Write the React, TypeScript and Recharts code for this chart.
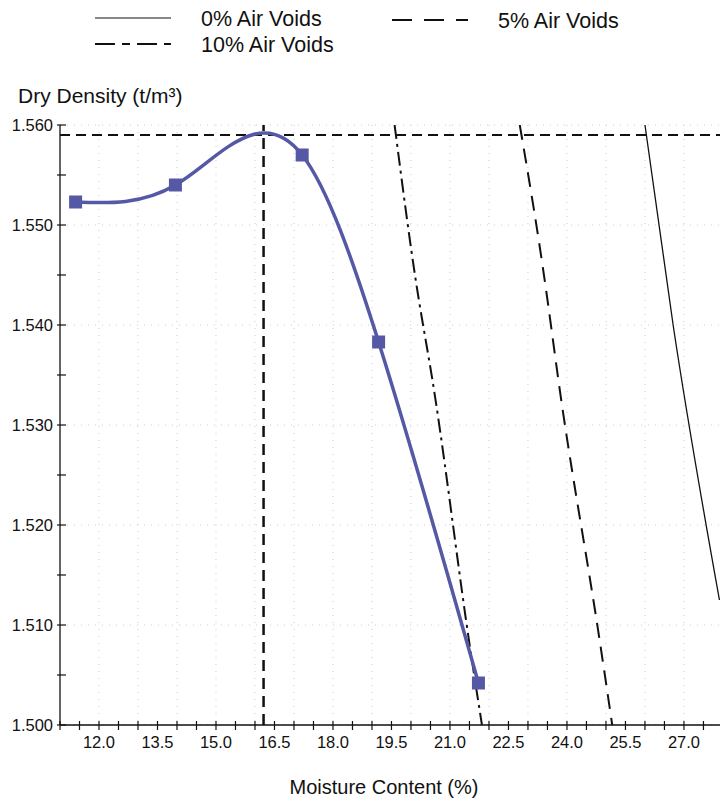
import React from "react";
import {
  LineChart,
  Line,
  XAxis,
  YAxis,
  CartesianGrid,
  ReferenceLine,
} from "recharts";

// compaction test points
const moisture = [11.4, 13.96, 17.21, 19.17, 21.73];
const dryDensity = [1.5523, 1.554, 1.557, 1.5383, 1.5042];

// air voids lines
const voids0X = [26.0, 26.73, 27.91];
const voids0Y = [1.56, 1.5398, 1.5125];
const voids5X = [22.79, 23.49, 23.78, 24.73, 25.16];
const voids5Y = [1.56, 1.5428, 1.5345, 1.5112, 1.5];
const voids10X = [19.58, 20.19, 20.55, 21.4, 21.82];
const voids10Y = [1.56, 1.5428, 1.5345, 1.5108, 1.5];

const maxDryDensity = 1.559;
const optimumMoisture = 16.22;

const xTicks = [
  11, 11.5, 12, 12.5, 13, 13.5, 14, 14.5, 15, 15.5, 16, 16.5, 17, 17.5, 18,
  18.5, 19, 19.5, 20, 20.5, 21, 21.5, 22, 22.5, 23, 23.5, 24, 24.5, 25, 25.5,
  26, 26.5, 27, 27.5,
];
const xLabelled = [12, 13.5, 15, 16.5, 18, 19.5, 21, 22.5, 24, 25.5, 27];
const yTicks = [
  1.5, 1.505, 1.51, 1.515, 1.52, 1.525, 1.53, 1.535, 1.54, 1.545, 1.55, 1.555,
  1.56,
];
const yLabelled = [1.5, 1.51, 1.52, 1.53, 1.54, 1.55, 1.56];
const gridX = [12, 13, 14, 15, 16, 17, 18, 19, 20, 21, 22, 23, 24, 25, 26, 27];

const toPoints = (xs: number[], ys: number[]) =>
  xs.map((x, i) => ({ x, y: ys[i] }));

const testData = toPoints(moisture, dryDensity);
const voids0 = toPoints(voids0X, voids0Y);
const voids5 = toPoints(voids5X, voids5Y);
const voids10 = toPoints(voids10X, voids10Y);

const W = 721;
const H = 801;
const MARGIN = { top: 125, right: 0, bottom: 46, left: 10 };
const Y_AXIS_W = 50;
const X_AXIS_H = 30;
const AXIS_X = MARGIN.left + Y_AXIS_W;
const AXIS_Y = H - MARGIN.bottom - X_AXIS_H;
const FONT = "'Liberation Sans', Arial, sans-serif";
const CURVE = "#5558a5";

// natural cubic spline y(x), drawn as bezier segments
function splineX(context: any) {
  let xs: number[] = [];
  let ys: number[] = [];
  return {
    areaStart() {},
    areaEnd() {},
    lineStart() {
      xs = [];
      ys = [];
    },
    point(x: number, y: number) {
      xs.push(+x);
      ys.push(+y);
    },
    lineEnd() {
      const n = xs.length;
      if (!n) return;
      context.moveTo(xs[0], ys[0]);
      if (n < 3) {
        if (n === 2) context.lineTo(xs[1], ys[1]);
        return;
      }
      const h: number[] = [];
      const s: number[] = [];
      for (let i = 0; i < n - 1; i++) {
        h[i] = xs[i + 1] - xs[i];
        s[i] = (ys[i + 1] - ys[i]) / h[i];
      }
      const a: number[] = [];
      const b: number[] = [];
      const c: number[] = [];
      const d: number[] = [];
      for (let i = 1; i < n - 1; i++) {
        a[i] = h[i - 1];
        b[i] = 2 * (h[i - 1] + h[i]);
        c[i] = h[i];
        d[i] = 6 * (s[i] - s[i - 1]);
      }
      for (let i = 2; i < n - 1; i++) {
        const w = a[i] / b[i - 1];
        b[i] -= w * c[i - 1];
        d[i] -= w * d[i - 1];
      }
      const M = new Array(n).fill(0);
      M[n - 2] = d[n - 2] / b[n - 2];
      for (let i = n - 3; i >= 1; i--) M[i] = (d[i] - c[i] * M[i + 1]) / b[i];
      for (let i = 0; i < n - 1; i++) {
        const d0 = s[i] - (h[i] * (2 * M[i] + M[i + 1])) / 6;
        const d1 = s[i] + (h[i] * (M[i] + 2 * M[i + 1])) / 6;
        context.bezierCurveTo(
          xs[i] + h[i] / 3,
          ys[i] + (d0 * h[i]) / 3,
          xs[i + 1] - h[i] / 3,
          ys[i + 1] - (d1 * h[i]) / 3,
          xs[i + 1],
          ys[i + 1]
        );
      }
    },
  };
}

const XTick = (props: any) => {
  const cx = props.x;
  const v = props.payload.value;
  const show = xLabelled.some((t) => Math.abs(t - v) < 1e-6);
  return (
    <g>
      <line x1={cx} x2={cx} y1={AXIS_Y - 4} y2={AXIS_Y + 5} stroke="#111" strokeWidth={1.2} />
      {show && (
        <text x={cx} y={AXIS_Y + 23} textAnchor="middle" fontSize={16.5} fill="#111" fontFamily={FONT}>
          {v.toFixed(1)}
        </text>
      )}
    </g>
  );
};

const YTick = (props: any) => {
  const cy = props.y;
  const v = props.payload.value;
  const show = yLabelled.some((t) => Math.abs(t - v) < 1e-6);
  return (
    <g>
      <line x1={AXIS_X - 3} x2={AXIS_X + 6} y1={cy} y2={cy} stroke="#111" strokeWidth={1.2} />
      {show && (
        <text x={AXIS_X - 7} y={cy + 6} textAnchor="end" fontSize={16.5} fill="#111" fontFamily={FONT}>
          {v.toFixed(3)}
        </text>
      )}
    </g>
  );
};

const SquareDot = (props: any) => {
  const { cx, cy, index } = props;
  if (cx == null || cy == null) return <g key={`sq-${index}`} />;
  return <rect key={`sq-${index}`} x={cx - 6.5} y={cy - 6.5} width={13} height={13} fill={CURVE} />;
};

const legendItems = [
  { label: "0% Air Voids", x: 95, y: 18, dash: "", width: 1.2 },
  { label: "5% Air Voids", x: 392, y: 20, dash: "20 12", width: 2 },
  { label: "10% Air Voids", x: 95, y: 44, dash: "20 7 8 7", width: 2.2 },
];

function TopLegend() {
  return (
    <svg width={720} height={60} style={{ position: "absolute", left: 0, top: 0 }}>
      {legendItems.map((it) => (
        <g key={it.label}>
          <line
            x1={it.x}
            x2={it.x + 76}
            y1={it.y}
            y2={it.y}
            stroke="#111"
            strokeWidth={it.width}
            strokeDasharray={it.dash || undefined}
          />
          <text x={it.x + 106} y={it.y + 8} fontSize={21.5} fill="#111" fontFamily={FONT}>
            {it.label}
          </text>
        </g>
      ))}
    </svg>
  );
}

export default function App() {
  return (
    <div
      style={{
        position: "absolute",
        left: 0,
        top: 0,
        width: 720,
        height: 801,
        overflow: "hidden",
        background: "#fff",
        fontFamily: FONT,
      }}
    >
      <TopLegend />
      <LineChart width={W} height={H} margin={MARGIN}>
        <CartesianGrid
          stroke="#c9cbe6"
          strokeDasharray="1 6"
          verticalValues={gridX}
          horizontalValues={yLabelled}
        />
        <XAxis
          type="number"
          dataKey="x"
          domain={[11, 27.95]}
          ticks={xTicks}
          interval={0}
          allowDataOverflow
          height={X_AXIS_H}
          axisLine={{ stroke: "#111", strokeWidth: 1.3 }}
          tickLine={false}
          tick={<XTick />}
          label={{
            content: () => (
              <text x={384} y={794} textAnchor="middle" fontSize={20} fill="#111" fontFamily={FONT}>
                Moisture Content (%)
              </text>
            ),
          }}
        />
        <YAxis
          type="number"
          dataKey="y"
          domain={[1.5, 1.56]}
          ticks={yTicks}
          interval={0}
          allowDataOverflow
          width={Y_AXIS_W}
          axisLine={{ stroke: "#111", strokeWidth: 1.3 }}
          tickLine={false}
          tick={<YTick />}
          label={{
            content: () => (
              <text x={18} y={103} fontSize={21} fill="#111" fontFamily={FONT}>
                Dry Density (t/m³)
              </text>
            ),
          }}
        />
        <ReferenceLine y={maxDryDensity} stroke="#111" strokeWidth={2} strokeDasharray="10 6" />
        <ReferenceLine x={optimumMoisture} stroke="#111" strokeWidth={2.5} strokeDasharray="11 7" />
        <Line
          data={voids0}
          dataKey="y"
          type={splineX as any}
          stroke="#111"
          strokeWidth={1.3}
          dot={false}
          isAnimationActive={false}
        />
        <Line
          data={voids5}
          dataKey="y"
          type={splineX as any}
          stroke="#111"
          strokeWidth={2}
          strokeDasharray="15 9"
          dot={false}
          isAnimationActive={false}
        />
        <Line
          data={voids10}
          dataKey="y"
          type={splineX as any}
          stroke="#111"
          strokeWidth={2}
          strokeDasharray="14 5 3 5"
          dot={false}
          isAnimationActive={false}
        />
        <Line
          data={testData}
          dataKey="y"
          type={splineX as any}
          stroke={CURVE}
          strokeWidth={3.5}
          dot={<SquareDot />}
          isAnimationActive={false}
        />
      </LineChart>
    </div>
  );
}
